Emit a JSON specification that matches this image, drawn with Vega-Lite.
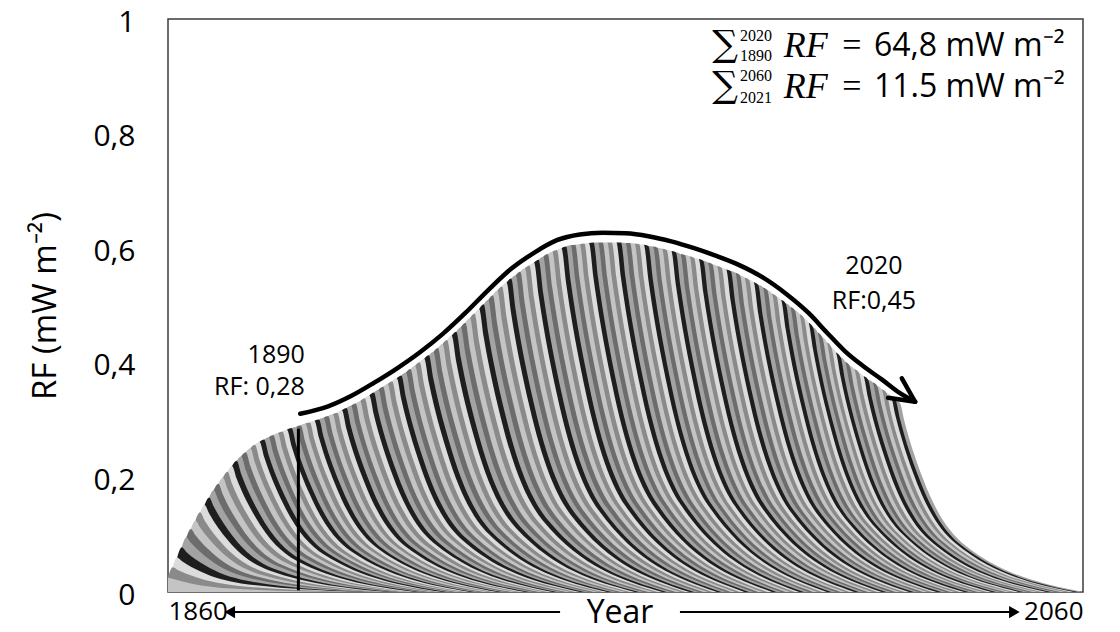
{
"$schema": "https://vega.github.io/schema/vega-lite/v6.json",
"width": 915, "height": 573,
"autosize": {"type": "none"},
"padding": {"left": 168, "top": 19, "right": 37, "bottom": 40},
"background": "white",
"config": {"view": {"stroke": "#3c3c3c", "strokeWidth": 1.5}, "font": "Open Sans"},
"datasets": {
"bands": [
{"c":2020,"t":2019,"v":0.336},{"c":2020,"t":2020,"v":0.33},{"c":2020,"t":2021,"v":0.297},{"c":2020,"t":2025,"v":0.198},{"c":2020,"t":2034,"v":0.083},{"c":2020,"t":2060,"v":0},
{"c":2019,"t":2018,"v":0.342},{"c":2019,"t":2019,"v":0.336},{"c":2019,"t":2020,"v":0.302},{"c":2019,"t":2024,"v":0.202},{"c":2019,"t":2033,"v":0.084},{"c":2019,"t":2059,"v":0},
{"c":2018,"t":2017,"v":0.348},{"c":2018,"t":2018,"v":0.342},{"c":2018,"t":2019,"v":0.308},{"c":2018,"t":2023,"v":0.205},{"c":2018,"t":2032,"v":0.086},{"c":2018,"t":2058,"v":0},
{"c":2017,"t":2016,"v":0.354},{"c":2017,"t":2017,"v":0.348},{"c":2017,"t":2018,"v":0.313},{"c":2017,"t":2022,"v":0.209},{"c":2017,"t":2031,"v":0.087},{"c":2017,"t":2057,"v":0},
{"c":2016,"t":2015,"v":0.36},{"c":2016,"t":2016,"v":0.354},{"c":2016,"t":2017,"v":0.319},{"c":2016,"t":2021,"v":0.212},{"c":2016,"t":2030,"v":0.089},{"c":2016,"t":2056,"v":0},
{"c":2015,"t":2014,"v":0.366},{"c":2015,"t":2015,"v":0.36},{"c":2015,"t":2016,"v":0.324},{"c":2015,"t":2020,"v":0.216},{"c":2015,"t":2029,"v":0.09},{"c":2015,"t":2055,"v":0},
{"c":2014,"t":2013,"v":0.371},{"c":2014,"t":2014,"v":0.366},{"c":2014,"t":2015,"v":0.329},{"c":2014,"t":2019,"v":0.22},{"c":2014,"t":2028,"v":0.092},{"c":2014,"t":2054,"v":0},
{"c":2013,"t":2012,"v":0.377},{"c":2013,"t":2013,"v":0.371},{"c":2013,"t":2014,"v":0.334},{"c":2013,"t":2018,"v":0.223},{"c":2013,"t":2027,"v":0.093},{"c":2013,"t":2053,"v":0},
{"c":2012,"t":2011,"v":0.383},{"c":2012,"t":2012,"v":0.377},{"c":2012,"t":2013,"v":0.339},{"c":2012,"t":2017,"v":0.226},{"c":2012,"t":2026,"v":0.094},{"c":2012,"t":2052,"v":0},
{"c":2011,"t":2010,"v":0.389},{"c":2011,"t":2011,"v":0.383},{"c":2011,"t":2012,"v":0.345},{"c":2011,"t":2016,"v":0.23},{"c":2011,"t":2025,"v":0.096},{"c":2011,"t":2051,"v":0},
{"c":2010,"t":2009,"v":0.395},{"c":2010,"t":2010,"v":0.389},{"c":2010,"t":2011,"v":0.35},{"c":2010,"t":2015,"v":0.233},{"c":2010,"t":2024,"v":0.097},{"c":2010,"t":2050,"v":0},
{"c":2009,"t":2008,"v":0.402},{"c":2009,"t":2009,"v":0.395},{"c":2009,"t":2010,"v":0.356},{"c":2009,"t":2014,"v":0.237},{"c":2009,"t":2023,"v":0.099},{"c":2009,"t":2049,"v":0},
{"c":2008,"t":2007,"v":0.41},{"c":2008,"t":2008,"v":0.402},{"c":2008,"t":2009,"v":0.362},{"c":2008,"t":2013,"v":0.241},{"c":2008,"t":2022,"v":0.101},{"c":2008,"t":2048,"v":0},
{"c":2007,"t":2006,"v":0.418},{"c":2007,"t":2007,"v":0.41},{"c":2007,"t":2008,"v":0.369},{"c":2007,"t":2012,"v":0.246},{"c":2007,"t":2021,"v":0.103},{"c":2007,"t":2047,"v":0},
{"c":2006,"t":2005,"v":0.427},{"c":2006,"t":2006,"v":0.418},{"c":2006,"t":2007,"v":0.376},{"c":2006,"t":2011,"v":0.251},{"c":2006,"t":2020,"v":0.105},{"c":2006,"t":2046,"v":0},
{"c":2005,"t":2004,"v":0.436},{"c":2005,"t":2005,"v":0.427},{"c":2005,"t":2006,"v":0.384},{"c":2005,"t":2010,"v":0.256},{"c":2005,"t":2019,"v":0.107},{"c":2005,"t":2045,"v":0},
{"c":2004,"t":2003,"v":0.445},{"c":2004,"t":2004,"v":0.436},{"c":2004,"t":2005,"v":0.392},{"c":2004,"t":2009,"v":0.262},{"c":2004,"t":2018,"v":0.109},{"c":2004,"t":2044,"v":0},
{"c":2003,"t":2002,"v":0.453},{"c":2003,"t":2003,"v":0.445},{"c":2003,"t":2004,"v":0.401},{"c":2003,"t":2008,"v":0.267},{"c":2003,"t":2017,"v":0.111},{"c":2003,"t":2043,"v":0},
{"c":2002,"t":2001,"v":0.462},{"c":2002,"t":2002,"v":0.453},{"c":2002,"t":2003,"v":0.408},{"c":2002,"t":2007,"v":0.272},{"c":2002,"t":2016,"v":0.113},{"c":2002,"t":2042,"v":0},
{"c":2001,"t":2000,"v":0.47},{"c":2001,"t":2001,"v":0.462},{"c":2001,"t":2002,"v":0.416},{"c":2001,"t":2006,"v":0.277},{"c":2001,"t":2015,"v":0.116},{"c":2001,"t":2041,"v":0},
{"c":2000,"t":1999,"v":0.478},{"c":2000,"t":2000,"v":0.47},{"c":2000,"t":2001,"v":0.423},{"c":2000,"t":2005,"v":0.282},{"c":2000,"t":2014,"v":0.118},{"c":2000,"t":2040,"v":0},
{"c":1999,"t":1998,"v":0.485},{"c":1999,"t":1999,"v":0.478},{"c":1999,"t":2000,"v":0.43},{"c":1999,"t":2004,"v":0.287},{"c":1999,"t":2013,"v":0.12},{"c":1999,"t":2039,"v":0},
{"c":1998,"t":1997,"v":0.492},{"c":1998,"t":1998,"v":0.485},{"c":1998,"t":1999,"v":0.437},{"c":1998,"t":2003,"v":0.291},{"c":1998,"t":2012,"v":0.121},{"c":1998,"t":2038,"v":0},
{"c":1997,"t":1996,"v":0.498},{"c":1997,"t":1997,"v":0.492},{"c":1997,"t":1998,"v":0.443},{"c":1997,"t":2002,"v":0.295},{"c":1997,"t":2011,"v":0.123},{"c":1997,"t":2037,"v":0},
{"c":1996,"t":1995,"v":0.504},{"c":1996,"t":1996,"v":0.498},{"c":1996,"t":1997,"v":0.448},{"c":1996,"t":2001,"v":0.299},{"c":1996,"t":2010,"v":0.125},{"c":1996,"t":2036,"v":0},
{"c":1995,"t":1994,"v":0.51},{"c":1995,"t":1995,"v":0.504},{"c":1995,"t":1996,"v":0.454},{"c":1995,"t":2000,"v":0.302},{"c":1995,"t":2009,"v":0.126},{"c":1995,"t":2035,"v":0},
{"c":1994,"t":1993,"v":0.516},{"c":1994,"t":1994,"v":0.51},{"c":1994,"t":1995,"v":0.459},{"c":1994,"t":1999,"v":0.306},{"c":1994,"t":2008,"v":0.128},{"c":1994,"t":2034,"v":0},
{"c":1993,"t":1992,"v":0.521},{"c":1993,"t":1993,"v":0.516},{"c":1993,"t":1994,"v":0.464},{"c":1993,"t":1998,"v":0.31},{"c":1993,"t":2007,"v":0.129},{"c":1993,"t":2033,"v":0},
{"c":1992,"t":1991,"v":0.527},{"c":1992,"t":1992,"v":0.521},{"c":1992,"t":1993,"v":0.469},{"c":1992,"t":1997,"v":0.313},{"c":1992,"t":2006,"v":0.13},{"c":1992,"t":2032,"v":0},
{"c":1991,"t":1990,"v":0.532},{"c":1991,"t":1991,"v":0.527},{"c":1991,"t":1992,"v":0.474},{"c":1991,"t":1996,"v":0.316},{"c":1991,"t":2005,"v":0.132},{"c":1991,"t":2031,"v":0},
{"c":1990,"t":1989,"v":0.536},{"c":1990,"t":1990,"v":0.532},{"c":1990,"t":1991,"v":0.479},{"c":1990,"t":1995,"v":0.319},{"c":1990,"t":2004,"v":0.133},{"c":1990,"t":2030,"v":0},
{"c":1989,"t":1988,"v":0.541},{"c":1989,"t":1989,"v":0.536},{"c":1989,"t":1990,"v":0.482},{"c":1989,"t":1994,"v":0.322},{"c":1989,"t":2003,"v":0.134},{"c":1989,"t":2029,"v":0},
{"c":1988,"t":1987,"v":0.545},{"c":1988,"t":1988,"v":0.541},{"c":1988,"t":1989,"v":0.487},{"c":1988,"t":1993,"v":0.325},{"c":1988,"t":2002,"v":0.135},{"c":1988,"t":2028,"v":0},
{"c":1987,"t":1986,"v":0.549},{"c":1987,"t":1987,"v":0.545},{"c":1987,"t":1988,"v":0.491},{"c":1987,"t":1992,"v":0.327},{"c":1987,"t":2001,"v":0.136},{"c":1987,"t":2027,"v":0},
{"c":1986,"t":1985,"v":0.553},{"c":1986,"t":1986,"v":0.549},{"c":1986,"t":1987,"v":0.494},{"c":1986,"t":1991,"v":0.329},{"c":1986,"t":2000,"v":0.137},{"c":1986,"t":2026,"v":0},
{"c":1985,"t":1984,"v":0.557},{"c":1985,"t":1985,"v":0.553},{"c":1985,"t":1986,"v":0.498},{"c":1985,"t":1990,"v":0.332},{"c":1985,"t":1999,"v":0.138},{"c":1985,"t":2025,"v":0},
{"c":1984,"t":1983,"v":0.56},{"c":1984,"t":1984,"v":0.557},{"c":1984,"t":1985,"v":0.501},{"c":1984,"t":1989,"v":0.334},{"c":1984,"t":1998,"v":0.139},{"c":1984,"t":2024,"v":0},
{"c":1983,"t":1982,"v":0.563},{"c":1983,"t":1983,"v":0.56},{"c":1983,"t":1984,"v":0.504},{"c":1983,"t":1988,"v":0.336},{"c":1983,"t":1997,"v":0.14},{"c":1983,"t":2023,"v":0},
{"c":1982,"t":1981,"v":0.566},{"c":1982,"t":1982,"v":0.563},{"c":1982,"t":1983,"v":0.507},{"c":1982,"t":1987,"v":0.338},{"c":1982,"t":1996,"v":0.141},{"c":1982,"t":2022,"v":0},
{"c":1981,"t":1980,"v":0.569},{"c":1981,"t":1981,"v":0.566},{"c":1981,"t":1982,"v":0.509},{"c":1981,"t":1986,"v":0.34},{"c":1981,"t":1995,"v":0.142},{"c":1981,"t":2021,"v":0},
{"c":1980,"t":1979,"v":0.572},{"c":1980,"t":1980,"v":0.569},{"c":1980,"t":1981,"v":0.512},{"c":1980,"t":1985,"v":0.341},{"c":1980,"t":1994,"v":0.142},{"c":1980,"t":2020,"v":0},
{"c":1979,"t":1978,"v":0.575},{"c":1979,"t":1979,"v":0.572},{"c":1979,"t":1980,"v":0.515},{"c":1979,"t":1984,"v":0.343},{"c":1979,"t":1993,"v":0.143},{"c":1979,"t":2019,"v":0},
{"c":1978,"t":1977,"v":0.578},{"c":1978,"t":1978,"v":0.575},{"c":1978,"t":1979,"v":0.518},{"c":1978,"t":1983,"v":0.345},{"c":1978,"t":1992,"v":0.144},{"c":1978,"t":2018,"v":0},
{"c":1977,"t":1976,"v":0.581},{"c":1977,"t":1977,"v":0.578},{"c":1977,"t":1978,"v":0.52},{"c":1977,"t":1982,"v":0.347},{"c":1977,"t":1991,"v":0.145},{"c":1977,"t":2017,"v":0},
{"c":1976,"t":1975,"v":0.583},{"c":1976,"t":1976,"v":0.581},{"c":1976,"t":1977,"v":0.523},{"c":1976,"t":1981,"v":0.349},{"c":1976,"t":1990,"v":0.145},{"c":1976,"t":2016,"v":0},
{"c":1975,"t":1974,"v":0.586},{"c":1975,"t":1975,"v":0.583},{"c":1975,"t":1976,"v":0.525},{"c":1975,"t":1980,"v":0.35},{"c":1975,"t":1989,"v":0.146},{"c":1975,"t":2015,"v":0},
{"c":1974,"t":1973,"v":0.588},{"c":1974,"t":1974,"v":0.586},{"c":1974,"t":1975,"v":0.527},{"c":1974,"t":1979,"v":0.352},{"c":1974,"t":1988,"v":0.147},{"c":1974,"t":2014,"v":0},
{"c":1973,"t":1972,"v":0.59},{"c":1973,"t":1973,"v":0.588},{"c":1973,"t":1974,"v":0.529},{"c":1973,"t":1978,"v":0.353},{"c":1973,"t":1987,"v":0.147},{"c":1973,"t":2013,"v":0},
{"c":1972,"t":1971,"v":0.593},{"c":1972,"t":1972,"v":0.59},{"c":1972,"t":1973,"v":0.531},{"c":1972,"t":1977,"v":0.354},{"c":1972,"t":1986,"v":0.148},{"c":1972,"t":2012,"v":0},
{"c":1971,"t":1970,"v":0.595},{"c":1971,"t":1971,"v":0.593},{"c":1971,"t":1972,"v":0.534},{"c":1971,"t":1976,"v":0.356},{"c":1971,"t":1985,"v":0.148},{"c":1971,"t":2011,"v":0},
{"c":1970,"t":1969,"v":0.597},{"c":1970,"t":1970,"v":0.595},{"c":1970,"t":1971,"v":0.536},{"c":1970,"t":1975,"v":0.357},{"c":1970,"t":1984,"v":0.149},{"c":1970,"t":2010,"v":0},
{"c":1969,"t":1968,"v":0.599},{"c":1969,"t":1969,"v":0.597},{"c":1969,"t":1970,"v":0.537},{"c":1969,"t":1974,"v":0.358},{"c":1969,"t":1983,"v":0.149},{"c":1969,"t":2009,"v":0},
{"c":1968,"t":1967,"v":0.601},{"c":1968,"t":1968,"v":0.599},{"c":1968,"t":1969,"v":0.539},{"c":1968,"t":1973,"v":0.359},{"c":1968,"t":1982,"v":0.15},{"c":1968,"t":2008,"v":0},
{"c":1967,"t":1966,"v":0.603},{"c":1967,"t":1967,"v":0.601},{"c":1967,"t":1968,"v":0.541},{"c":1967,"t":1972,"v":0.361},{"c":1967,"t":1981,"v":0.15},{"c":1967,"t":2007,"v":0},
{"c":1966,"t":1965,"v":0.604},{"c":1966,"t":1966,"v":0.603},{"c":1966,"t":1967,"v":0.543},{"c":1966,"t":1971,"v":0.362},{"c":1966,"t":1980,"v":0.151},{"c":1966,"t":2006,"v":0},
{"c":1965,"t":1964,"v":0.606},{"c":1965,"t":1965,"v":0.604},{"c":1965,"t":1966,"v":0.544},{"c":1965,"t":1970,"v":0.362},{"c":1965,"t":1979,"v":0.151},{"c":1965,"t":2005,"v":0},
{"c":1964,"t":1963,"v":0.607},{"c":1964,"t":1964,"v":0.606},{"c":1964,"t":1965,"v":0.545},{"c":1964,"t":1969,"v":0.364},{"c":1964,"t":1978,"v":0.152},{"c":1964,"t":2004,"v":0},
{"c":1963,"t":1962,"v":0.608},{"c":1963,"t":1963,"v":0.607},{"c":1963,"t":1964,"v":0.546},{"c":1963,"t":1968,"v":0.364},{"c":1963,"t":1977,"v":0.152},{"c":1963,"t":2003,"v":0},
{"c":1962,"t":1961,"v":0.609},{"c":1962,"t":1962,"v":0.608},{"c":1962,"t":1963,"v":0.547},{"c":1962,"t":1967,"v":0.365},{"c":1962,"t":1976,"v":0.152},{"c":1962,"t":2002,"v":0},
{"c":1961,"t":1960,"v":0.609},{"c":1961,"t":1961,"v":0.609},{"c":1961,"t":1962,"v":0.548},{"c":1961,"t":1966,"v":0.365},{"c":1961,"t":1975,"v":0.152},{"c":1961,"t":2001,"v":0},
{"c":1960,"t":1959,"v":0.61},{"c":1960,"t":1960,"v":0.609},{"c":1960,"t":1961,"v":0.548},{"c":1960,"t":1965,"v":0.365},{"c":1960,"t":1974,"v":0.152},{"c":1960,"t":2000,"v":0},
{"c":1959,"t":1958,"v":0.61},{"c":1959,"t":1959,"v":0.61},{"c":1959,"t":1960,"v":0.549},{"c":1959,"t":1964,"v":0.366},{"c":1959,"t":1973,"v":0.153},{"c":1959,"t":1999,"v":0},
{"c":1958,"t":1957,"v":0.61},{"c":1958,"t":1958,"v":0.61},{"c":1958,"t":1959,"v":0.549},{"c":1958,"t":1963,"v":0.366},{"c":1958,"t":1972,"v":0.153},{"c":1958,"t":1998,"v":0},
{"c":1957,"t":1956,"v":0.61},{"c":1957,"t":1957,"v":0.61},{"c":1957,"t":1958,"v":0.549},{"c":1957,"t":1962,"v":0.366},{"c":1957,"t":1971,"v":0.153},{"c":1957,"t":1997,"v":0},
{"c":1956,"t":1955,"v":0.61},{"c":1956,"t":1956,"v":0.61},{"c":1956,"t":1957,"v":0.549},{"c":1956,"t":1961,"v":0.366},{"c":1956,"t":1970,"v":0.153},{"c":1956,"t":1996,"v":0},
{"c":1955,"t":1954,"v":0.61},{"c":1955,"t":1955,"v":0.61},{"c":1955,"t":1956,"v":0.549},{"c":1955,"t":1960,"v":0.366},{"c":1955,"t":1969,"v":0.153},{"c":1955,"t":1995,"v":0},
{"c":1954,"t":1953,"v":0.61},{"c":1954,"t":1954,"v":0.61},{"c":1954,"t":1955,"v":0.549},{"c":1954,"t":1959,"v":0.366},{"c":1954,"t":1968,"v":0.153},{"c":1954,"t":1994,"v":0},
{"c":1953,"t":1952,"v":0.609},{"c":1953,"t":1953,"v":0.61},{"c":1953,"t":1954,"v":0.549},{"c":1953,"t":1958,"v":0.366},{"c":1953,"t":1967,"v":0.153},{"c":1953,"t":1993,"v":0},
{"c":1952,"t":1951,"v":0.608},{"c":1952,"t":1952,"v":0.609},{"c":1952,"t":1953,"v":0.548},{"c":1952,"t":1957,"v":0.365},{"c":1952,"t":1966,"v":0.152},{"c":1952,"t":1992,"v":0},
{"c":1951,"t":1950,"v":0.607},{"c":1951,"t":1951,"v":0.608},{"c":1951,"t":1952,"v":0.547},{"c":1951,"t":1956,"v":0.365},{"c":1951,"t":1965,"v":0.152},{"c":1951,"t":1991,"v":0},
{"c":1950,"t":1949,"v":0.606},{"c":1950,"t":1950,"v":0.607},{"c":1950,"t":1951,"v":0.546},{"c":1950,"t":1955,"v":0.364},{"c":1950,"t":1964,"v":0.152},{"c":1950,"t":1990,"v":0},
{"c":1949,"t":1948,"v":0.605},{"c":1949,"t":1949,"v":0.606},{"c":1949,"t":1950,"v":0.545},{"c":1949,"t":1954,"v":0.364},{"c":1949,"t":1963,"v":0.152},{"c":1949,"t":1989,"v":0},
{"c":1948,"t":1947,"v":0.603},{"c":1948,"t":1948,"v":0.605},{"c":1948,"t":1949,"v":0.545},{"c":1948,"t":1953,"v":0.363},{"c":1948,"t":1962,"v":0.151},{"c":1948,"t":1988,"v":0},
{"c":1947,"t":1946,"v":0.6},{"c":1947,"t":1947,"v":0.603},{"c":1947,"t":1948,"v":0.543},{"c":1947,"t":1952,"v":0.362},{"c":1947,"t":1961,"v":0.151},{"c":1947,"t":1987,"v":0},
{"c":1946,"t":1945,"v":0.597},{"c":1946,"t":1946,"v":0.6},{"c":1946,"t":1947,"v":0.54},{"c":1946,"t":1951,"v":0.36},{"c":1946,"t":1960,"v":0.15},{"c":1946,"t":1986,"v":0},
{"c":1945,"t":1944,"v":0.594},{"c":1945,"t":1945,"v":0.597},{"c":1945,"t":1946,"v":0.537},{"c":1945,"t":1950,"v":0.358},{"c":1945,"t":1959,"v":0.149},{"c":1945,"t":1985,"v":0},
{"c":1944,"t":1943,"v":0.59},{"c":1944,"t":1944,"v":0.594},{"c":1944,"t":1945,"v":0.535},{"c":1944,"t":1949,"v":0.356},{"c":1944,"t":1958,"v":0.149},{"c":1944,"t":1984,"v":0},
{"c":1943,"t":1942,"v":0.585},{"c":1943,"t":1943,"v":0.59},{"c":1943,"t":1944,"v":0.531},{"c":1943,"t":1948,"v":0.354},{"c":1943,"t":1957,"v":0.148},{"c":1943,"t":1983,"v":0},
{"c":1942,"t":1941,"v":0.58},{"c":1942,"t":1942,"v":0.585},{"c":1942,"t":1943,"v":0.527},{"c":1942,"t":1947,"v":0.351},{"c":1942,"t":1956,"v":0.146},{"c":1942,"t":1982,"v":0},
{"c":1941,"t":1940,"v":0.575},{"c":1941,"t":1941,"v":0.58},{"c":1941,"t":1942,"v":0.522},{"c":1941,"t":1946,"v":0.348},{"c":1941,"t":1955,"v":0.145},{"c":1941,"t":1981,"v":0},
{"c":1940,"t":1939,"v":0.57},{"c":1940,"t":1940,"v":0.575},{"c":1940,"t":1941,"v":0.518},{"c":1940,"t":1945,"v":0.345},{"c":1940,"t":1954,"v":0.144},{"c":1940,"t":1980,"v":0},
{"c":1939,"t":1938,"v":0.565},{"c":1939,"t":1939,"v":0.57},{"c":1939,"t":1940,"v":0.513},{"c":1939,"t":1944,"v":0.342},{"c":1939,"t":1953,"v":0.143},{"c":1939,"t":1979,"v":0},
{"c":1938,"t":1937,"v":0.559},{"c":1938,"t":1938,"v":0.565},{"c":1938,"t":1939,"v":0.509},{"c":1938,"t":1943,"v":0.339},{"c":1938,"t":1952,"v":0.141},{"c":1938,"t":1978,"v":0},
{"c":1937,"t":1936,"v":0.553},{"c":1937,"t":1937,"v":0.559},{"c":1937,"t":1938,"v":0.503},{"c":1937,"t":1942,"v":0.335},{"c":1937,"t":1951,"v":0.14},{"c":1937,"t":1977,"v":0},
{"c":1936,"t":1935,"v":0.547},{"c":1936,"t":1936,"v":0.553},{"c":1936,"t":1937,"v":0.498},{"c":1936,"t":1941,"v":0.332},{"c":1936,"t":1950,"v":0.138},{"c":1936,"t":1976,"v":0},
{"c":1935,"t":1934,"v":0.54},{"c":1935,"t":1935,"v":0.547},{"c":1935,"t":1936,"v":0.492},{"c":1935,"t":1940,"v":0.328},{"c":1935,"t":1949,"v":0.137},{"c":1935,"t":1975,"v":0},
{"c":1934,"t":1933,"v":0.533},{"c":1934,"t":1934,"v":0.54},{"c":1934,"t":1935,"v":0.486},{"c":1934,"t":1939,"v":0.324},{"c":1934,"t":1948,"v":0.135},{"c":1934,"t":1974,"v":0},
{"c":1933,"t":1932,"v":0.526},{"c":1933,"t":1933,"v":0.533},{"c":1933,"t":1934,"v":0.48},{"c":1933,"t":1938,"v":0.32},{"c":1933,"t":1947,"v":0.133},{"c":1933,"t":1973,"v":0},
{"c":1932,"t":1931,"v":0.518},{"c":1932,"t":1932,"v":0.526},{"c":1932,"t":1933,"v":0.473},{"c":1932,"t":1937,"v":0.316},{"c":1932,"t":1946,"v":0.132},{"c":1932,"t":1972,"v":0},
{"c":1931,"t":1930,"v":0.51},{"c":1931,"t":1931,"v":0.518},{"c":1931,"t":1932,"v":0.466},{"c":1931,"t":1936,"v":0.311},{"c":1931,"t":1945,"v":0.13},{"c":1931,"t":1971,"v":0},
{"c":1930,"t":1929,"v":0.502},{"c":1930,"t":1930,"v":0.51},{"c":1930,"t":1931,"v":0.459},{"c":1930,"t":1935,"v":0.306},{"c":1930,"t":1944,"v":0.128},{"c":1930,"t":1970,"v":0},
{"c":1929,"t":1928,"v":0.494},{"c":1929,"t":1929,"v":0.502},{"c":1929,"t":1930,"v":0.452},{"c":1929,"t":1934,"v":0.301},{"c":1929,"t":1943,"v":0.126},{"c":1929,"t":1969,"v":0},
{"c":1928,"t":1927,"v":0.486},{"c":1928,"t":1928,"v":0.494},{"c":1928,"t":1929,"v":0.445},{"c":1928,"t":1933,"v":0.296},{"c":1928,"t":1942,"v":0.124},{"c":1928,"t":1968,"v":0},
{"c":1927,"t":1926,"v":0.478},{"c":1927,"t":1927,"v":0.486},{"c":1927,"t":1928,"v":0.437},{"c":1927,"t":1932,"v":0.292},{"c":1927,"t":1941,"v":0.122},{"c":1927,"t":1967,"v":0},
{"c":1926,"t":1925,"v":0.47},{"c":1926,"t":1926,"v":0.478},{"c":1926,"t":1927,"v":0.43},{"c":1926,"t":1931,"v":0.287},{"c":1926,"t":1940,"v":0.12},{"c":1926,"t":1966,"v":0},
{"c":1925,"t":1924,"v":0.462},{"c":1925,"t":1925,"v":0.47},{"c":1925,"t":1926,"v":0.423},{"c":1925,"t":1930,"v":0.282},{"c":1925,"t":1939,"v":0.118},{"c":1925,"t":1965,"v":0},
{"c":1924,"t":1923,"v":0.454},{"c":1924,"t":1924,"v":0.462},{"c":1924,"t":1925,"v":0.416},{"c":1924,"t":1929,"v":0.277},{"c":1924,"t":1938,"v":0.116},{"c":1924,"t":1964,"v":0},
{"c":1923,"t":1922,"v":0.447},{"c":1923,"t":1923,"v":0.454},{"c":1923,"t":1924,"v":0.409},{"c":1923,"t":1928,"v":0.272},{"c":1923,"t":1937,"v":0.114},{"c":1923,"t":1963,"v":0},
{"c":1922,"t":1921,"v":0.44},{"c":1922,"t":1922,"v":0.447},{"c":1922,"t":1923,"v":0.402},{"c":1922,"t":1927,"v":0.268},{"c":1922,"t":1936,"v":0.112},{"c":1922,"t":1962,"v":0},
{"c":1921,"t":1920,"v":0.433},{"c":1921,"t":1921,"v":0.44},{"c":1921,"t":1922,"v":0.396},{"c":1921,"t":1926,"v":0.264},{"c":1921,"t":1935,"v":0.11},{"c":1921,"t":1961,"v":0},
{"c":1920,"t":1919,"v":0.426},{"c":1920,"t":1920,"v":0.433},{"c":1920,"t":1921,"v":0.39},{"c":1920,"t":1925,"v":0.26},{"c":1920,"t":1934,"v":0.108},{"c":1920,"t":1960,"v":0},
{"c":1919,"t":1918,"v":0.419},{"c":1919,"t":1919,"v":0.426},{"c":1919,"t":1920,"v":0.383},{"c":1919,"t":1924,"v":0.256},{"c":1919,"t":1933,"v":0.107},{"c":1919,"t":1959,"v":0},
{"c":1918,"t":1917,"v":0.413},{"c":1918,"t":1918,"v":0.419},{"c":1918,"t":1919,"v":0.377},{"c":1918,"t":1923,"v":0.251},{"c":1918,"t":1932,"v":0.105},{"c":1918,"t":1958,"v":0},
{"c":1917,"t":1916,"v":0.407},{"c":1917,"t":1917,"v":0.413},{"c":1917,"t":1918,"v":0.372},{"c":1917,"t":1922,"v":0.248},{"c":1917,"t":1931,"v":0.103},{"c":1917,"t":1957,"v":0},
{"c":1916,"t":1915,"v":0.401},{"c":1916,"t":1916,"v":0.407},{"c":1916,"t":1917,"v":0.366},{"c":1916,"t":1921,"v":0.244},{"c":1916,"t":1930,"v":0.102},{"c":1916,"t":1956,"v":0},
{"c":1915,"t":1914,"v":0.395},{"c":1915,"t":1915,"v":0.401},{"c":1915,"t":1916,"v":0.361},{"c":1915,"t":1920,"v":0.241},{"c":1915,"t":1929,"v":0.1},{"c":1915,"t":1955,"v":0},
{"c":1914,"t":1913,"v":0.389},{"c":1914,"t":1914,"v":0.395},{"c":1914,"t":1915,"v":0.356},{"c":1914,"t":1919,"v":0.237},{"c":1914,"t":1928,"v":0.099},{"c":1914,"t":1954,"v":0},
{"c":1913,"t":1912,"v":0.383},{"c":1913,"t":1913,"v":0.389},{"c":1913,"t":1914,"v":0.35},{"c":1913,"t":1918,"v":0.233},{"c":1913,"t":1927,"v":0.097},{"c":1913,"t":1953,"v":0},
{"c":1912,"t":1911,"v":0.378},{"c":1912,"t":1912,"v":0.383},{"c":1912,"t":1913,"v":0.345},{"c":1912,"t":1917,"v":0.23},{"c":1912,"t":1926,"v":0.096},{"c":1912,"t":1952,"v":0},
{"c":1911,"t":1910,"v":0.373},{"c":1911,"t":1911,"v":0.378},{"c":1911,"t":1912,"v":0.34},{"c":1911,"t":1916,"v":0.227},{"c":1911,"t":1925,"v":0.095},{"c":1911,"t":1951,"v":0},
{"c":1910,"t":1909,"v":0.368},{"c":1910,"t":1910,"v":0.373},{"c":1910,"t":1911,"v":0.336},{"c":1910,"t":1915,"v":0.224},{"c":1910,"t":1924,"v":0.093},{"c":1910,"t":1950,"v":0},
{"c":1909,"t":1908,"v":0.363},{"c":1909,"t":1909,"v":0.368},{"c":1909,"t":1910,"v":0.331},{"c":1909,"t":1914,"v":0.221},{"c":1909,"t":1923,"v":0.092},{"c":1909,"t":1949,"v":0},
{"c":1908,"t":1907,"v":0.358},{"c":1908,"t":1908,"v":0.363},{"c":1908,"t":1909,"v":0.327},{"c":1908,"t":1913,"v":0.218},{"c":1908,"t":1922,"v":0.091},{"c":1908,"t":1948,"v":0},
{"c":1907,"t":1906,"v":0.353},{"c":1907,"t":1907,"v":0.358},{"c":1907,"t":1908,"v":0.322},{"c":1907,"t":1912,"v":0.215},{"c":1907,"t":1921,"v":0.09},{"c":1907,"t":1947,"v":0},
{"c":1906,"t":1905,"v":0.348},{"c":1906,"t":1906,"v":0.353},{"c":1906,"t":1907,"v":0.318},{"c":1906,"t":1911,"v":0.212},{"c":1906,"t":1920,"v":0.088},{"c":1906,"t":1946,"v":0},
{"c":1905,"t":1904,"v":0.343},{"c":1905,"t":1905,"v":0.348},{"c":1905,"t":1906,"v":0.313},{"c":1905,"t":1910,"v":0.209},{"c":1905,"t":1919,"v":0.087},{"c":1905,"t":1945,"v":0},
{"c":1904,"t":1903,"v":0.338},{"c":1904,"t":1904,"v":0.343},{"c":1904,"t":1905,"v":0.309},{"c":1904,"t":1909,"v":0.206},{"c":1904,"t":1918,"v":0.086},{"c":1904,"t":1944,"v":0},
{"c":1903,"t":1902,"v":0.333},{"c":1903,"t":1903,"v":0.338},{"c":1903,"t":1904,"v":0.304},{"c":1903,"t":1908,"v":0.203},{"c":1903,"t":1917,"v":0.085},{"c":1903,"t":1943,"v":0},
{"c":1902,"t":1901,"v":0.329},{"c":1902,"t":1902,"v":0.333},{"c":1902,"t":1903,"v":0.3},{"c":1902,"t":1907,"v":0.2},{"c":1902,"t":1916,"v":0.083},{"c":1902,"t":1942,"v":0},
{"c":1901,"t":1900,"v":0.325},{"c":1901,"t":1901,"v":0.329},{"c":1901,"t":1902,"v":0.296},{"c":1901,"t":1906,"v":0.197},{"c":1901,"t":1915,"v":0.082},{"c":1901,"t":1941,"v":0},
{"c":1900,"t":1899,"v":0.321},{"c":1900,"t":1900,"v":0.325},{"c":1900,"t":1901,"v":0.293},{"c":1900,"t":1905,"v":0.195},{"c":1900,"t":1914,"v":0.081},{"c":1900,"t":1940,"v":0},
{"c":1899,"t":1898,"v":0.317},{"c":1899,"t":1899,"v":0.321},{"c":1899,"t":1900,"v":0.289},{"c":1899,"t":1904,"v":0.193},{"c":1899,"t":1913,"v":0.08},{"c":1899,"t":1939,"v":0},
{"c":1898,"t":1897,"v":0.313},{"c":1898,"t":1898,"v":0.317},{"c":1898,"t":1899,"v":0.285},{"c":1898,"t":1903,"v":0.19},{"c":1898,"t":1912,"v":0.079},{"c":1898,"t":1938,"v":0},
{"c":1897,"t":1896,"v":0.31},{"c":1897,"t":1897,"v":0.313},{"c":1897,"t":1898,"v":0.282},{"c":1897,"t":1902,"v":0.188},{"c":1897,"t":1911,"v":0.078},{"c":1897,"t":1937,"v":0},
{"c":1896,"t":1895,"v":0.307},{"c":1896,"t":1896,"v":0.31},{"c":1896,"t":1897,"v":0.279},{"c":1896,"t":1901,"v":0.186},{"c":1896,"t":1910,"v":0.078},{"c":1896,"t":1936,"v":0},
{"c":1895,"t":1894,"v":0.304},{"c":1895,"t":1895,"v":0.307},{"c":1895,"t":1896,"v":0.276},{"c":1895,"t":1900,"v":0.184},{"c":1895,"t":1909,"v":0.077},{"c":1895,"t":1935,"v":0},
{"c":1894,"t":1893,"v":0.301},{"c":1894,"t":1894,"v":0.304},{"c":1894,"t":1895,"v":0.274},{"c":1894,"t":1899,"v":0.182},{"c":1894,"t":1908,"v":0.076},{"c":1894,"t":1934,"v":0},
{"c":1893,"t":1892,"v":0.299},{"c":1893,"t":1893,"v":0.301},{"c":1893,"t":1894,"v":0.271},{"c":1893,"t":1898,"v":0.181},{"c":1893,"t":1907,"v":0.075},{"c":1893,"t":1933,"v":0},
{"c":1892,"t":1891,"v":0.296},{"c":1892,"t":1892,"v":0.299},{"c":1892,"t":1893,"v":0.269},{"c":1892,"t":1897,"v":0.179},{"c":1892,"t":1906,"v":0.075},{"c":1892,"t":1932,"v":0},
{"c":1891,"t":1890,"v":0.294},{"c":1891,"t":1891,"v":0.296},{"c":1891,"t":1892,"v":0.266},{"c":1891,"t":1896,"v":0.178},{"c":1891,"t":1905,"v":0.074},{"c":1891,"t":1931,"v":0},
{"c":1890,"t":1889,"v":0.291},{"c":1890,"t":1890,"v":0.294},{"c":1890,"t":1891,"v":0.265},{"c":1890,"t":1895,"v":0.176},{"c":1890,"t":1904,"v":0.074},{"c":1890,"t":1930,"v":0},
{"c":1889,"t":1888,"v":0.288},{"c":1889,"t":1889,"v":0.291},{"c":1889,"t":1890,"v":0.262},{"c":1889,"t":1894,"v":0.175},{"c":1889,"t":1903,"v":0.073},{"c":1889,"t":1929,"v":0},
{"c":1888,"t":1887,"v":0.286},{"c":1888,"t":1888,"v":0.288},{"c":1888,"t":1889,"v":0.259},{"c":1888,"t":1893,"v":0.173},{"c":1888,"t":1902,"v":0.072},{"c":1888,"t":1928,"v":0},
{"c":1887,"t":1886,"v":0.283},{"c":1887,"t":1887,"v":0.286},{"c":1887,"t":1888,"v":0.257},{"c":1887,"t":1892,"v":0.172},{"c":1887,"t":1901,"v":0.072},{"c":1887,"t":1927,"v":0},
{"c":1886,"t":1885,"v":0.28},{"c":1886,"t":1886,"v":0.283},{"c":1886,"t":1887,"v":0.255},{"c":1886,"t":1891,"v":0.17},{"c":1886,"t":1900,"v":0.071},{"c":1886,"t":1926,"v":0},
{"c":1885,"t":1884,"v":0.277},{"c":1885,"t":1885,"v":0.28},{"c":1885,"t":1886,"v":0.252},{"c":1885,"t":1890,"v":0.168},{"c":1885,"t":1899,"v":0.07},{"c":1885,"t":1925,"v":0},
{"c":1884,"t":1883,"v":0.274},{"c":1884,"t":1884,"v":0.277},{"c":1884,"t":1885,"v":0.249},{"c":1884,"t":1889,"v":0.166},{"c":1884,"t":1898,"v":0.069},{"c":1884,"t":1924,"v":0},
{"c":1883,"t":1882,"v":0.27},{"c":1883,"t":1883,"v":0.274},{"c":1883,"t":1884,"v":0.247},{"c":1883,"t":1888,"v":0.164},{"c":1883,"t":1897,"v":0.069},{"c":1883,"t":1923,"v":0},
{"c":1882,"t":1881,"v":0.266},{"c":1882,"t":1882,"v":0.27},{"c":1882,"t":1883,"v":0.243},{"c":1882,"t":1887,"v":0.162},{"c":1882,"t":1896,"v":0.068},{"c":1882,"t":1922,"v":0},
{"c":1881,"t":1880,"v":0.262},{"c":1881,"t":1881,"v":0.266},{"c":1881,"t":1882,"v":0.239},{"c":1881,"t":1886,"v":0.16},{"c":1881,"t":1895,"v":0.067},{"c":1881,"t":1921,"v":0},
{"c":1880,"t":1879,"v":0.257},{"c":1880,"t":1880,"v":0.262},{"c":1880,"t":1881,"v":0.236},{"c":1880,"t":1885,"v":0.157},{"c":1880,"t":1894,"v":0.066},{"c":1880,"t":1920,"v":0},
{"c":1879,"t":1878,"v":0.251},{"c":1879,"t":1879,"v":0.257},{"c":1879,"t":1880,"v":0.231},{"c":1879,"t":1884,"v":0.154},{"c":1879,"t":1893,"v":0.064},{"c":1879,"t":1919,"v":0},
{"c":1878,"t":1877,"v":0.244},{"c":1878,"t":1878,"v":0.251},{"c":1878,"t":1879,"v":0.226},{"c":1878,"t":1883,"v":0.151},{"c":1878,"t":1892,"v":0.063},{"c":1878,"t":1918,"v":0},
{"c":1877,"t":1876,"v":0.237},{"c":1877,"t":1877,"v":0.244},{"c":1877,"t":1878,"v":0.22},{"c":1877,"t":1882,"v":0.146},{"c":1877,"t":1891,"v":0.061},{"c":1877,"t":1917,"v":0},
{"c":1876,"t":1875,"v":0.229},{"c":1876,"t":1876,"v":0.237},{"c":1876,"t":1877,"v":0.213},{"c":1876,"t":1881,"v":0.142},{"c":1876,"t":1890,"v":0.059},{"c":1876,"t":1916,"v":0},
{"c":1875,"t":1874,"v":0.22},{"c":1875,"t":1875,"v":0.229},{"c":1875,"t":1876,"v":0.206},{"c":1875,"t":1880,"v":0.137},{"c":1875,"t":1889,"v":0.057},{"c":1875,"t":1915,"v":0},
{"c":1874,"t":1873,"v":0.21},{"c":1874,"t":1874,"v":0.22},{"c":1874,"t":1875,"v":0.198},{"c":1874,"t":1879,"v":0.132},{"c":1874,"t":1888,"v":0.055},{"c":1874,"t":1914,"v":0},
{"c":1873,"t":1872,"v":0.2},{"c":1873,"t":1873,"v":0.21},{"c":1873,"t":1874,"v":0.189},{"c":1873,"t":1878,"v":0.126},{"c":1873,"t":1887,"v":0.053},{"c":1873,"t":1913,"v":0},
{"c":1872,"t":1871,"v":0.189},{"c":1872,"t":1872,"v":0.2},{"c":1872,"t":1873,"v":0.18},{"c":1872,"t":1877,"v":0.12},{"c":1872,"t":1886,"v":0.05},{"c":1872,"t":1912,"v":0},
{"c":1871,"t":1870,"v":0.178},{"c":1871,"t":1871,"v":0.189},{"c":1871,"t":1872,"v":0.17},{"c":1871,"t":1876,"v":0.113},{"c":1871,"t":1885,"v":0.047},{"c":1871,"t":1911,"v":0},
{"c":1870,"t":1869,"v":0.165},{"c":1870,"t":1870,"v":0.178},{"c":1870,"t":1871,"v":0.16},{"c":1870,"t":1875,"v":0.107},{"c":1870,"t":1884,"v":0.045},{"c":1870,"t":1910,"v":0},
{"c":1869,"t":1868,"v":0.152},{"c":1869,"t":1869,"v":0.165},{"c":1869,"t":1870,"v":0.149},{"c":1869,"t":1874,"v":0.099},{"c":1869,"t":1883,"v":0.041},{"c":1869,"t":1909,"v":0},
{"c":1868,"t":1867,"v":0.139},{"c":1868,"t":1868,"v":0.152},{"c":1868,"t":1869,"v":0.137},{"c":1868,"t":1873,"v":0.091},{"c":1868,"t":1882,"v":0.038},{"c":1868,"t":1908,"v":0},
{"c":1867,"t":1866,"v":0.125},{"c":1867,"t":1867,"v":0.139},{"c":1867,"t":1868,"v":0.125},{"c":1867,"t":1872,"v":0.083},{"c":1867,"t":1881,"v":0.035},{"c":1867,"t":1907,"v":0},
{"c":1866,"t":1865,"v":0.11},{"c":1866,"t":1866,"v":0.125},{"c":1866,"t":1867,"v":0.113},{"c":1866,"t":1871,"v":0.075},{"c":1866,"t":1880,"v":0.031},{"c":1866,"t":1906,"v":0},
{"c":1865,"t":1864,"v":0.095},{"c":1865,"t":1865,"v":0.11},{"c":1865,"t":1866,"v":0.099},{"c":1865,"t":1870,"v":0.066},{"c":1865,"t":1879,"v":0.028},{"c":1865,"t":1905,"v":0},
{"c":1864,"t":1863,"v":0.078},{"c":1864,"t":1864,"v":0.095},{"c":1864,"t":1865,"v":0.086},{"c":1864,"t":1869,"v":0.057},{"c":1864,"t":1878,"v":0.024},{"c":1864,"t":1904,"v":0},
{"c":1863,"t":1862,"v":0.06},{"c":1863,"t":1863,"v":0.078},{"c":1863,"t":1864,"v":0.07},{"c":1863,"t":1868,"v":0.047},{"c":1863,"t":1877,"v":0.02},{"c":1863,"t":1903,"v":0},
{"c":1862,"t":1861,"v":0.043},{"c":1862,"t":1862,"v":0.06},{"c":1862,"t":1863,"v":0.054},{"c":1862,"t":1867,"v":0.036},{"c":1862,"t":1876,"v":0.015},{"c":1862,"t":1902,"v":0},
{"c":1861,"t":1860,"v":0.025},{"c":1861,"t":1861,"v":0.043},{"c":1861,"t":1862,"v":0.039},{"c":1861,"t":1866,"v":0.026},{"c":1861,"t":1875,"v":0.011},{"c":1861,"t":1901,"v":0},
{"c":1860,"t":1859,"v":0.0},{"c":1860,"t":1860,"v":0.025},{"c":1860,"t":1861,"v":0.023},{"c":1860,"t":1865,"v":0.015},{"c":1860,"t":1874,"v":0.006},{"c":1860,"t":1900,"v":0}
],
"arrow": [
{"s":"shaft","t":1888.9,"v":0.311},{"s":"shaft","t":1895,"v":0.324},{"s":"shaft","t":1900,"v":0.342},{"s":"shaft","t":1905,"v":0.365},{"s":"shaft","t":1910,"v":0.39},{"s":"shaft","t":1915,"v":0.418},{"s":"shaft","t":1920,"v":0.45},{"s":"shaft","t":1925,"v":0.487},{"s":"shaft","t":1930,"v":0.527},{"s":"shaft","t":1935,"v":0.564},{"s":"shaft","t":1940,"v":0.592},{"s":"shaft","t":1945,"v":0.614},{"s":"shaft","t":1950,"v":0.624},{"s":"shaft","t":1955,"v":0.627},{"s":"shaft","t":1960,"v":0.626},{"s":"shaft","t":1965,"v":0.621},{"s":"shaft","t":1970,"v":0.612},{"s":"shaft","t":1975,"v":0.6},{"s":"shaft","t":1980,"v":0.586},{"s":"shaft","t":1985,"v":0.57},{"s":"shaft","t":1990,"v":0.549},{"s":"shaft","t":1995,"v":0.521},{"s":"shaft","t":2000,"v":0.487},{"s":"shaft","t":2004,"v":0.453},{"s":"shaft","t":2008,"v":0.42},{"s":"shaft","t":2012,"v":0.394},{"s":"shaft","t":2016,"v":0.371},{"s":"shaft","t":2020,"v":0.347},{"s":"shaft","t":2023.3,"v":0.332},
{"s":"arm1","t":2020.4,"v":0.373},{"s":"arm1","t":2023.3,"v":0.332},
{"s":"arm2","t":2017.4,"v":0.339},{"s":"arm2","t":2023.3,"v":0.332}
],
"marker": [{"t":1888.5,"v":0.003,"v2":0.285}],
"yeararrows": [{"t":1874.5,"t2":1945.7},{"t":1971.9,"t2":2044}],
"heads": [{"t":1873.5,"v":-0.035,"d":"left"},{"t":2045,"v":-0.035,"d":"right"}],
"yearlabel": [{"t":1958.8,"v":-0.036,"txt":"Year"}],
"annotR": [{"t":1889.9,"v":0.414,"txt":"1890"},{"t":1889.9,"v":0.358,"txt":"RF: 0,28"}],
"annotC": [{"t":2014.3,"v":0.569,"txt":"2020"},{"t":2014.3,"v":0.508,"txt":"RF:0,45"}],
"sigma": [{"t":1984.6,"v":0.955,"txt":["∑","∑"]}],
"limits": [{"t":1985.0,"v":0.971,"txt":"2020"},{"t":1985.0,"v":0.935,"txt":"1890"},{"t":1985.0,"v":0.9,"txt":"2060"},{"t":1985.0,"v":0.863,"txt":"2021"}],
"rf": [{"t":1994.6,"v":0.953,"txt":["RF","RF"]}],
"eq": [{"t":2009.5,"v":0.953,"txt":["=","="]}],
"vals": [{"t":2014.3,"v":0.953,"txt":["64,8 mW m⁻²","11.5 mW m⁻²"]}]
},
"layer": [
{
"data": {"name": "bands"},
"mark": {"type": "area", "interpolate": "monotone", "clip": true},
"encoding": {
"x": {"field": "t", "type": "quantitative", "scale": {"domain": [1860, 2060], "nice": false, "zero": false},
 "axis": {"values": [1860, 2060], "format": "d", "labelFlush": true, "ticks": false, "domain": false, "grid": false, "title": null, "labelFontSize": 26, "labelPadding": 6, "labelColor": "black", "labelFont": "Open Sans"}},
"y": {"field": "v", "type": "quantitative", "stack": null, "scale": {"domain": [0, 1], "nice": false, "zero": false},
 "axis": {"values": [0, 0.2, 0.4, 0.6, 0.8, 1], "labelExpr": "replace(format(datum.value, '.1~f'), '.', ',')", "ticks": false, "domain": false, "grid": false, "labelFontSize": 30, "labelPadding": 33, "labelOffset": 3, "labelColor": "black", "labelFont": "Open Sans",
  "title": "RF (mW m⁻²)", "titleFontSize": 33, "titleFontWeight": "normal", "titleColor": "black", "titleFont": "Open Sans", "titlePadding": 30}},
"color": {"field": "c", "type": "nominal", "legend": null,
 "scale": {"range": ["#c4c4c4", "#8a8a8a", "#dcdcdc", "#1e1e1e", "#a3a3a3", "#6c6c6c"]}}
}
},
{
"data": {"name": "arrow"},
"mark": {"type": "line", "color": "black", "strokeWidth": 4.5, "strokeCap": "round", "strokeJoin": "round", "interpolate": "monotone"},
"encoding": {"x": {"field": "t", "type": "quantitative"}, "y": {"field": "v", "type": "quantitative"}, "detail": {"field": "s"}}
},
{
"data": {"name": "marker"},
"mark": {"type": "rule", "color": "black", "strokeWidth": 3},
"encoding": {"x": {"field": "t", "type": "quantitative"}, "y": {"field": "v", "type": "quantitative"}, "y2": {"field": "v2"}}
},
{
"data": {"name": "yeararrows"},
"mark": {"type": "rule", "color": "black", "strokeWidth": 2},
"encoding": {"x": {"field": "t", "type": "quantitative"}, "x2": {"field": "t2"}, "y": {"datum": -0.035, "type": "quantitative"}}
},
{
"data": {"name": "heads"},
"mark": {"type": "point", "filled": true, "color": "black", "size": 150, "opacity": 1},
"encoding": {"x": {"field": "t", "type": "quantitative"}, "y": {"field": "v", "type": "quantitative"},
 "shape": {"field": "d", "type": "nominal", "legend": null, "scale": {"domain": ["left", "right"], "range": ["triangle-left", "triangle-right"]}}}
},
{
"data": {"name": "yearlabel"},
"mark": {"type": "text", "fontSize": 32, "font": "Open Sans", "align": "center", "baseline": "middle", "color": "black"},
"encoding": {"x": {"field": "t", "type": "quantitative"}, "y": {"field": "v", "type": "quantitative"}, "text": {"field": "txt"}}
},
{
"data": {"name": "annotR"},
"mark": {"type": "text", "fontSize": 25, "font": "Open Sans", "align": "right", "baseline": "middle", "color": "black"},
"encoding": {"x": {"field": "t", "type": "quantitative"}, "y": {"field": "v", "type": "quantitative"}, "text": {"field": "txt"}}
},
{
"data": {"name": "annotC"},
"mark": {"type": "text", "fontSize": 25, "font": "Open Sans", "align": "center", "baseline": "middle", "color": "black"},
"encoding": {"x": {"field": "t", "type": "quantitative"}, "y": {"field": "v", "type": "quantitative"}, "text": {"field": "txt"}}
},
{
"data": {"name": "sigma"},
"mark": {"type": "text", "fontSize": 36, "lineHeight": 41, "font": "DejaVu Serif", "align": "right", "baseline": "middle", "color": "black"},
"encoding": {"x": {"field": "t", "type": "quantitative"}, "y": {"field": "v", "type": "quantitative"}, "text": {"field": "txt"}}
},
{
"data": {"name": "limits"},
"mark": {"type": "text", "fontSize": 16, "font": "Liberation Serif", "align": "left", "baseline": "middle", "color": "black"},
"encoding": {"x": {"field": "t", "type": "quantitative"}, "y": {"field": "v", "type": "quantitative"}, "text": {"field": "txt"}}
},
{
"data": {"name": "rf"},
"mark": {"type": "text", "fontSize": 36, "lineHeight": 41, "font": "Liberation Serif", "fontStyle": "italic", "align": "left", "baseline": "middle", "color": "black"},
"encoding": {"x": {"field": "t", "type": "quantitative"}, "y": {"field": "v", "type": "quantitative"}, "text": {"field": "txt"}}
},
{
"data": {"name": "eq"},
"mark": {"type": "text", "fontSize": 34, "lineHeight": 41, "font": "Liberation Serif", "align": "center", "baseline": "middle", "color": "black"},
"encoding": {"x": {"field": "t", "type": "quantitative"}, "y": {"field": "v", "type": "quantitative"}, "text": {"field": "txt"}}
},
{
"data": {"name": "vals"},
"mark": {"type": "text", "fontSize": 32, "lineHeight": 41, "font": "Open Sans", "align": "left", "baseline": "middle", "color": "black"},
"encoding": {"x": {"field": "t", "type": "quantitative"}, "y": {"field": "v", "type": "quantitative"}, "text": {"field": "txt"}}
}
]
}
